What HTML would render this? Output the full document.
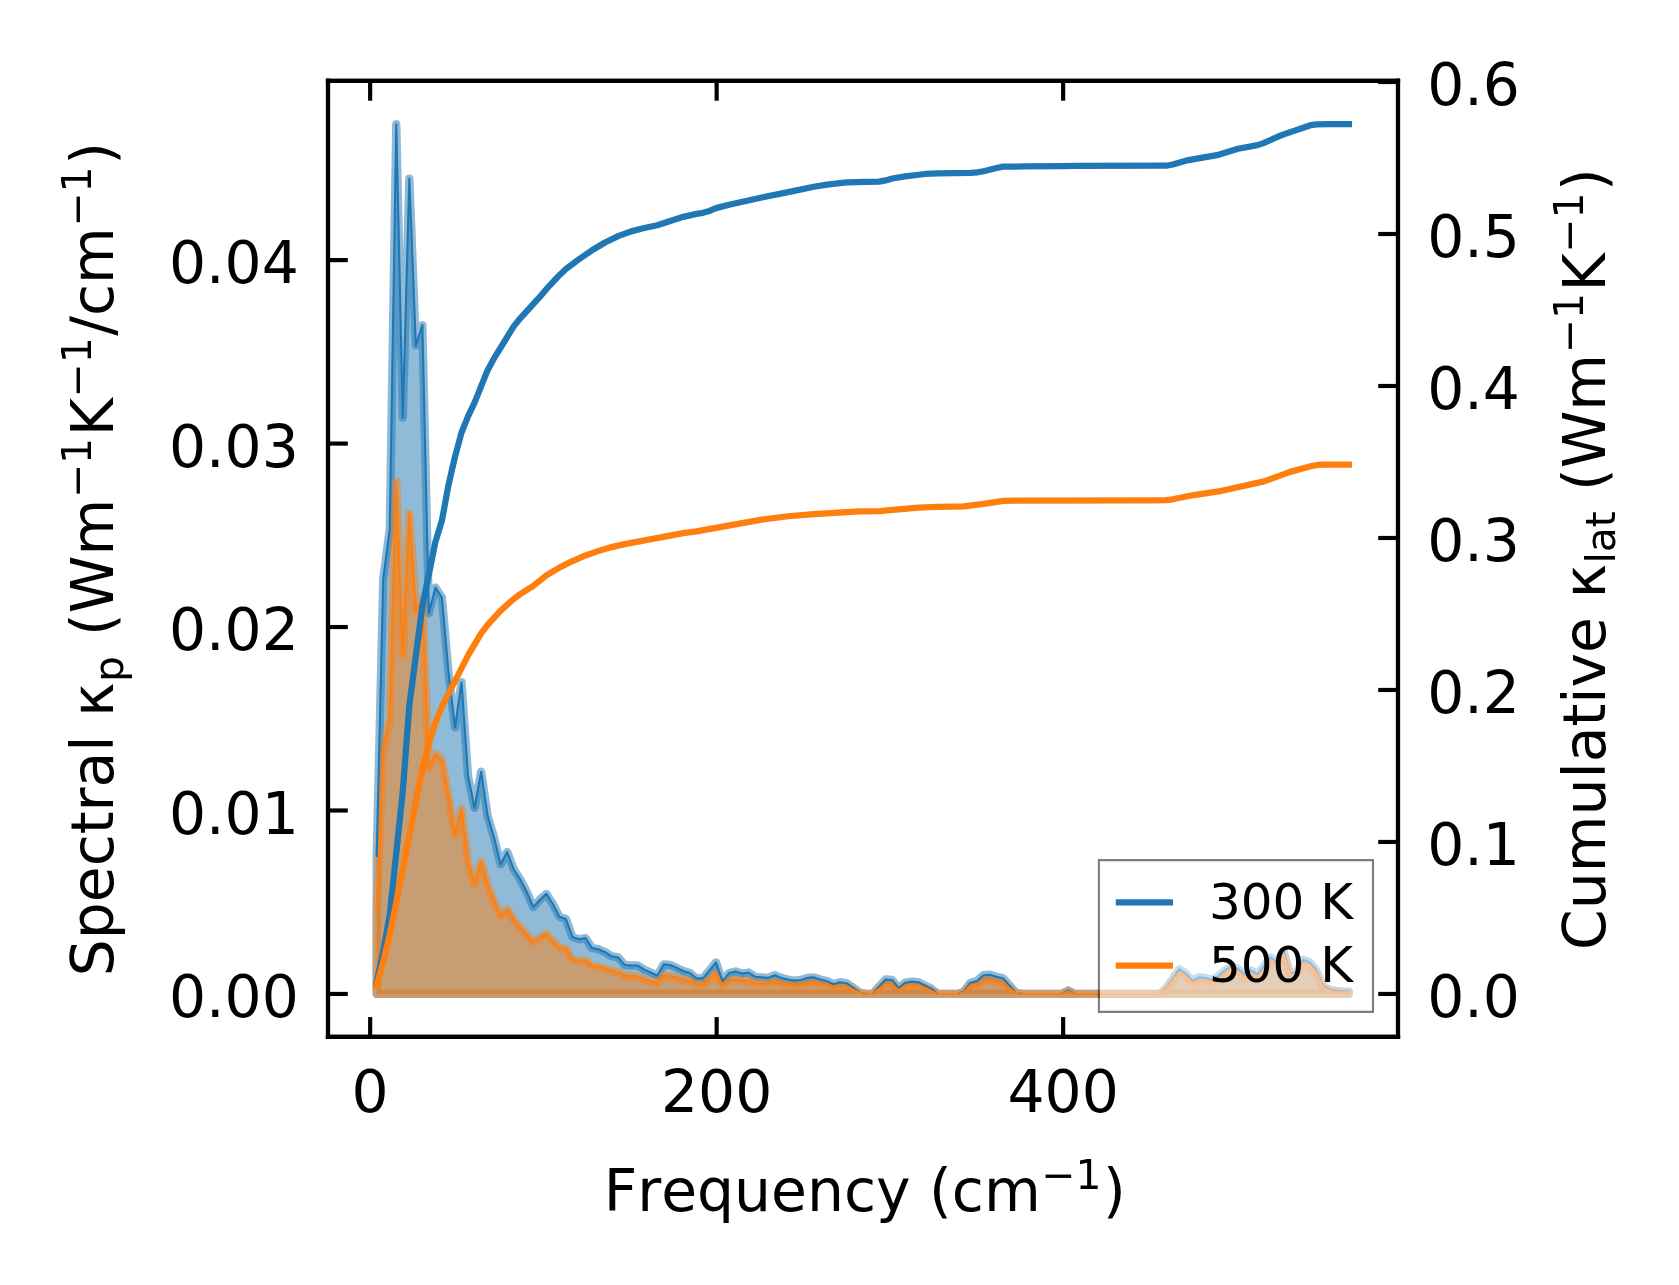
<!DOCTYPE html>
<html lang="en"><head><meta charset="utf-8"><title>Spectral and cumulative lattice thermal conductivity</title>
<style>html,body{margin:0;padding:0;background:#fff;overflow:hidden}svg{display:block;will-change:transform}</style>
</head><body>
<svg width="1679" height="1285" viewBox="0 0 402.96 308.4" version="1.1">
 <defs>
  <style type="text/css">svg *{stroke-linejoin: round; stroke-linecap: butt}</style>
 </defs>
 <g id="figure_1">
  <g id="patch_1">
   <path d="M 0 308.4 
L 402.96 308.4 
L 402.96 0 
L 0 0 
z
" style="fill: #ffffff"/>
  </g>
  <g id="axes_1">
   <g id="patch_2">
    <path d="M 78.72 248.856 
L 335.52 248.856 
L 335.52 19.416 
L 78.72 19.416 
z
" style="fill: #ffffff"/>
   </g>
   <g id="FillBetweenPolyCollection_1">
    <g clip-path="url(#p05aeb54f93)">
     <path d="M 90.408 -69.852 
L 90.408 -102.96 
L 91.974 -169.44 
L 93.54 -181.44 
L 95.106 -278.592 
L 96.672 -208.152 
L 98.238 -265.536 
L 99.804 -225.504 
L 101.37 -230.376 
L 102.936 -161.28 
L 104.502 -167.4 
L 106.068 -165 
L 107.634 -147.12 
L 109.2 -133.848 
L 110.766 -144.672 
L 112.332 -122.16 
L 113.898 -114.48 
L 115.464 -123.192 
L 117.03 -112.656 
L 118.596 -107.28 
L 120.162 -100.992 
L 121.728 -103.92 
L 123.294 -99.768 
L 124.86 -97.32 
L 126.426 -94.32 
L 127.992 -90.72 
L 129.558 -92.472 
L 131.124 -93.864 
L 132.69 -91.44 
L 134.256 -88.392 
L 135.822 -87.84 
L 137.388 -83.544 
L 138.954 -82.968 
L 140.52 -83.256 
L 142.086 -80.88 
L 143.652 -80.592 
L 145.218 -79.896 
L 146.784 -78.912 
L 148.35 -78.624 
L 149.916 -76.8 
L 151.482 -76.68 
L 153.048 -76.68 
L 154.614 -75.696 
L 156.18 -75 
L 157.746 -74.28 
L 159.312 -76.944 
L 160.878 -76.8 
L 162.444 -76.104 
L 164.01 -75.36 
L 165.576 -74.88 
L 167.142 -73.584 
L 168.708 -73.584 
L 170.274 -75.504 
L 171.84 -77.448 
L 173.406 -72.936 
L 174.972 -74.856 
L 176.538 -75.24 
L 178.104 -74.736 
L 179.67 -75 
L 181.236 -73.968 
L 182.802 -73.824 
L 184.368 -73.704 
L 185.934 -74.352 
L 187.5 -73.704 
L 189.066 -73.32 
L 190.632 -73.056 
L 192.198 -73.2 
L 193.764 -73.704 
L 195.33 -73.824 
L 196.896 -73.32 
L 198.462 -72.936 
L 200.028 -72.168 
L 201.594 -72.672 
L 203.16 -72.432 
L 204.726 -71.4 
L 206.292 -70.2 
L 207.858 -69.852 
L 209.424 -69.852 
L 210.99 -71.64 
L 212.556 -73.32 
L 214.122 -73.2 
L 215.688 -71.256 
L 217.254 -72.552 
L 218.82 -72.816 
L 220.386 -72.672 
L 221.952 -71.904 
L 223.518 -71.136 
L 225.084 -69.852 
L 226.65 -69.852 
L 228.216 -69.852 
L 229.782 -69.852 
L 231.348 -70.368 
L 232.914 -72.552 
L 234.48 -72.936 
L 236.046 -74.352 
L 237.612 -74.472 
L 239.178 -73.968 
L 240.744 -73.584 
L 242.31 -71.904 
L 243.876 -70.104 
L 245.442 -69.852 
L 247.008 -69.852 
L 248.574 -69.852 
L 250.14 -69.852 
L 251.706 -69.852 
L 253.272 -69.852 
L 254.838 -69.852 
L 256.404 -70.728 
L 257.97 -69.852 
L 259.536 -69.852 
L 261.102 -69.852 
L 262.668 -69.852 
L 264.234 -69.852 
L 265.8 -69.852 
L 267.366 -69.852 
L 268.932 -69.852 
L 270.498 -69.852 
L 272.064 -69.852 
L 273.63 -69.852 
L 275.196 -69.852 
L 276.762 -69.852 
L 278.328 -69.852 
L 279.894 -71.208 
L 281.46 -73.44 
L 283.026 -75.768 
L 284.592 -74.736 
L 286.158 -72.96 
L 287.724 -73.8 
L 289.29 -73.704 
L 290.856 -73.2 
L 292.422 -74.16 
L 293.988 -75.504 
L 295.554 -76.536 
L 297.12 -75.888 
L 298.686 -74.472 
L 300.252 -75.504 
L 301.818 -74.616 
L 303.384 -76.536 
L 304.95 -78.6 
L 306.516 -77.568 
L 308.082 -80.136 
L 309.648 -74.616 
L 311.214 -75.24 
L 312.78 -78.072 
L 314.346 -77.448 
L 315.912 -75.504 
L 317.478 -71.904 
L 319.044 -70.872 
L 320.61 -70.608 
L 322.176 -70.488 
L 323.742 -70.416 
L 323.742 -69.852 
L 323.742 -69.852 
L 322.176 -69.852 
L 320.61 -69.852 
L 319.044 -69.852 
L 317.478 -69.852 
L 315.912 -69.852 
L 314.346 -69.852 
L 312.78 -69.852 
L 311.214 -69.852 
L 309.648 -69.852 
L 308.082 -69.852 
L 306.516 -69.852 
L 304.95 -69.852 
L 303.384 -69.852 
L 301.818 -69.852 
L 300.252 -69.852 
L 298.686 -69.852 
L 297.12 -69.852 
L 295.554 -69.852 
L 293.988 -69.852 
L 292.422 -69.852 
L 290.856 -69.852 
L 289.29 -69.852 
L 287.724 -69.852 
L 286.158 -69.852 
L 284.592 -69.852 
L 283.026 -69.852 
L 281.46 -69.852 
L 279.894 -69.852 
L 278.328 -69.852 
L 276.762 -69.852 
L 275.196 -69.852 
L 273.63 -69.852 
L 272.064 -69.852 
L 270.498 -69.852 
L 268.932 -69.852 
L 267.366 -69.852 
L 265.8 -69.852 
L 264.234 -69.852 
L 262.668 -69.852 
L 261.102 -69.852 
L 259.536 -69.852 
L 257.97 -69.852 
L 256.404 -69.852 
L 254.838 -69.852 
L 253.272 -69.852 
L 251.706 -69.852 
L 250.14 -69.852 
L 248.574 -69.852 
L 247.008 -69.852 
L 245.442 -69.852 
L 243.876 -69.852 
L 242.31 -69.852 
L 240.744 -69.852 
L 239.178 -69.852 
L 237.612 -69.852 
L 236.046 -69.852 
L 234.48 -69.852 
L 232.914 -69.852 
L 231.348 -69.852 
L 229.782 -69.852 
L 228.216 -69.852 
L 226.65 -69.852 
L 225.084 -69.852 
L 223.518 -69.852 
L 221.952 -69.852 
L 220.386 -69.852 
L 218.82 -69.852 
L 217.254 -69.852 
L 215.688 -69.852 
L 214.122 -69.852 
L 212.556 -69.852 
L 210.99 -69.852 
L 209.424 -69.852 
L 207.858 -69.852 
L 206.292 -69.852 
L 204.726 -69.852 
L 203.16 -69.852 
L 201.594 -69.852 
L 200.028 -69.852 
L 198.462 -69.852 
L 196.896 -69.852 
L 195.33 -69.852 
L 193.764 -69.852 
L 192.198 -69.852 
L 190.632 -69.852 
L 189.066 -69.852 
L 187.5 -69.852 
L 185.934 -69.852 
L 184.368 -69.852 
L 182.802 -69.852 
L 181.236 -69.852 
L 179.67 -69.852 
L 178.104 -69.852 
L 176.538 -69.852 
L 174.972 -69.852 
L 173.406 -69.852 
L 171.84 -69.852 
L 170.274 -69.852 
L 168.708 -69.852 
L 167.142 -69.852 
L 165.576 -69.852 
L 164.01 -69.852 
L 162.444 -69.852 
L 160.878 -69.852 
L 159.312 -69.852 
L 157.746 -69.852 
L 156.18 -69.852 
L 154.614 -69.852 
L 153.048 -69.852 
L 151.482 -69.852 
L 149.916 -69.852 
L 148.35 -69.852 
L 146.784 -69.852 
L 145.218 -69.852 
L 143.652 -69.852 
L 142.086 -69.852 
L 140.52 -69.852 
L 138.954 -69.852 
L 137.388 -69.852 
L 135.822 -69.852 
L 134.256 -69.852 
L 132.69 -69.852 
L 131.124 -69.852 
L 129.558 -69.852 
L 127.992 -69.852 
L 126.426 -69.852 
L 124.86 -69.852 
L 123.294 -69.852 
L 121.728 -69.852 
L 120.162 -69.852 
L 118.596 -69.852 
L 117.03 -69.852 
L 115.464 -69.852 
L 113.898 -69.852 
L 112.332 -69.852 
L 110.766 -69.852 
L 109.2 -69.852 
L 107.634 -69.852 
L 106.068 -69.852 
L 104.502 -69.852 
L 102.936 -69.852 
L 101.37 -69.852 
L 99.804 -69.852 
L 98.238 -69.852 
L 96.672 -69.852 
L 95.106 -69.852 
L 93.54 -69.852 
L 91.974 -69.852 
L 90.408 -69.852 
z
" transform="translate(0 308.4)" style="fill: #1f77b4; fill-opacity: 0.5; stroke: #1f77b4; stroke-opacity: 0.5; stroke-width: 2; stroke: #1f77b4; stroke-opacity: 0.5; stroke-width: 2"/>
    </g>
   </g>
   <g id="FillBetweenPolyCollection_2">
    <g clip-path="url(#p05aeb54f93)">
     <path d="M 90.408 -69.852 
L 90.408 -89.28 
L 91.974 -128.4 
L 93.54 -135.84 
L 95.106 -192.792 
L 96.672 -151.2 
L 98.238 -185.136 
L 99.804 -161.88 
L 101.37 -164.64 
L 102.936 -124.08 
L 104.502 -127.44 
L 106.068 -125.952 
L 107.634 -117.36 
L 109.2 -108 
L 110.766 -114.168 
L 112.332 -101.52 
L 113.898 -96.336 
L 115.464 -101.568 
L 117.03 -96.072 
L 118.596 -92.04 
L 120.162 -88.488 
L 121.728 -90.12 
L 123.294 -87.6 
L 124.86 -85.8 
L 126.426 -84 
L 127.992 -82.272 
L 129.558 -83.4 
L 131.124 -84.264 
L 132.69 -82.44 
L 134.256 -80.976 
L 135.822 -80.736 
L 137.388 -78.072 
L 138.954 -77.784 
L 140.52 -77.928 
L 142.086 -76.536 
L 143.652 -76.392 
L 145.218 -75.984 
L 146.784 -75.408 
L 148.35 -75.12 
L 149.916 -74.16 
L 151.482 -74.16 
L 153.048 -74.016 
L 154.614 -73.32 
L 156.18 -72.888 
L 157.746 -72.48 
L 159.312 -74.28 
L 160.878 -74.16 
L 162.444 -73.728 
L 164.01 -73.32 
L 165.576 -72.912 
L 167.142 -72.192 
L 168.708 -72.216 
L 170.274 -73.44 
L 171.84 -74.736 
L 173.406 -72.024 
L 174.972 -73.056 
L 176.538 -73.32 
L 178.104 -72.936 
L 179.67 -73.056 
L 181.236 -72.432 
L 182.802 -72.432 
L 184.368 -72.288 
L 185.934 -72.816 
L 187.5 -72.288 
L 189.066 -72.024 
L 190.632 -71.904 
L 192.198 -72.024 
L 193.764 -72.432 
L 195.33 -72.432 
L 196.896 -72.168 
L 198.462 -72.024 
L 200.028 -71.448 
L 201.594 -71.784 
L 203.16 -71.64 
L 204.726 -70.872 
L 206.292 -70.104 
L 207.858 -69.852 
L 209.424 -69.852 
L 210.99 -71.136 
L 212.556 -72.288 
L 214.122 -72.168 
L 215.688 -70.752 
L 217.254 -71.784 
L 218.82 -72.024 
L 220.386 -71.904 
L 221.952 -71.256 
L 223.518 -70.608 
L 225.084 -69.852 
L 226.65 -69.852 
L 228.216 -69.852 
L 229.782 -69.852 
L 231.348 -70.224 
L 232.914 -71.904 
L 234.48 -72.024 
L 236.046 -73.056 
L 237.612 -73.2 
L 239.178 -72.816 
L 240.744 -72.552 
L 242.31 -71.136 
L 243.876 -70.104 
L 245.442 -69.852 
L 247.008 -69.852 
L 248.574 -69.852 
L 250.14 -69.852 
L 251.706 -69.852 
L 253.272 -69.852 
L 254.838 -69.852 
L 256.404 -70.44 
L 257.97 -69.852 
L 259.536 -69.852 
L 261.102 -69.852 
L 262.668 -69.852 
L 264.234 -69.852 
L 265.8 -69.852 
L 267.366 -69.852 
L 268.932 -69.852 
L 270.498 -69.852 
L 272.064 -69.852 
L 273.63 -69.852 
L 275.196 -69.852 
L 276.762 -69.852 
L 278.328 -69.852 
L 279.894 -70.92 
L 281.46 -72.96 
L 283.026 -74.88 
L 284.592 -73.968 
L 286.158 -72.288 
L 287.724 -72.816 
L 289.29 -72.936 
L 290.856 -72.432 
L 292.422 -73.2 
L 293.988 -74.736 
L 295.554 -75.768 
L 297.12 -75 
L 298.686 -73.584 
L 300.252 -74.616 
L 301.818 -73.44 
L 303.384 -75.504 
L 304.95 -77.568 
L 306.516 -76.8 
L 308.082 -79.368 
L 309.648 -74.232 
L 311.214 -74.736 
L 312.78 -77.04 
L 314.346 -76.656 
L 315.912 -74.856 
L 317.478 -71.4 
L 319.044 -70.608 
L 320.61 -70.224 
L 322.176 -70.224 
L 323.742 -70.224 
L 323.742 -69.852 
L 323.742 -69.852 
L 322.176 -69.852 
L 320.61 -69.852 
L 319.044 -69.852 
L 317.478 -69.852 
L 315.912 -69.852 
L 314.346 -69.852 
L 312.78 -69.852 
L 311.214 -69.852 
L 309.648 -69.852 
L 308.082 -69.852 
L 306.516 -69.852 
L 304.95 -69.852 
L 303.384 -69.852 
L 301.818 -69.852 
L 300.252 -69.852 
L 298.686 -69.852 
L 297.12 -69.852 
L 295.554 -69.852 
L 293.988 -69.852 
L 292.422 -69.852 
L 290.856 -69.852 
L 289.29 -69.852 
L 287.724 -69.852 
L 286.158 -69.852 
L 284.592 -69.852 
L 283.026 -69.852 
L 281.46 -69.852 
L 279.894 -69.852 
L 278.328 -69.852 
L 276.762 -69.852 
L 275.196 -69.852 
L 273.63 -69.852 
L 272.064 -69.852 
L 270.498 -69.852 
L 268.932 -69.852 
L 267.366 -69.852 
L 265.8 -69.852 
L 264.234 -69.852 
L 262.668 -69.852 
L 261.102 -69.852 
L 259.536 -69.852 
L 257.97 -69.852 
L 256.404 -69.852 
L 254.838 -69.852 
L 253.272 -69.852 
L 251.706 -69.852 
L 250.14 -69.852 
L 248.574 -69.852 
L 247.008 -69.852 
L 245.442 -69.852 
L 243.876 -69.852 
L 242.31 -69.852 
L 240.744 -69.852 
L 239.178 -69.852 
L 237.612 -69.852 
L 236.046 -69.852 
L 234.48 -69.852 
L 232.914 -69.852 
L 231.348 -69.852 
L 229.782 -69.852 
L 228.216 -69.852 
L 226.65 -69.852 
L 225.084 -69.852 
L 223.518 -69.852 
L 221.952 -69.852 
L 220.386 -69.852 
L 218.82 -69.852 
L 217.254 -69.852 
L 215.688 -69.852 
L 214.122 -69.852 
L 212.556 -69.852 
L 210.99 -69.852 
L 209.424 -69.852 
L 207.858 -69.852 
L 206.292 -69.852 
L 204.726 -69.852 
L 203.16 -69.852 
L 201.594 -69.852 
L 200.028 -69.852 
L 198.462 -69.852 
L 196.896 -69.852 
L 195.33 -69.852 
L 193.764 -69.852 
L 192.198 -69.852 
L 190.632 -69.852 
L 189.066 -69.852 
L 187.5 -69.852 
L 185.934 -69.852 
L 184.368 -69.852 
L 182.802 -69.852 
L 181.236 -69.852 
L 179.67 -69.852 
L 178.104 -69.852 
L 176.538 -69.852 
L 174.972 -69.852 
L 173.406 -69.852 
L 171.84 -69.852 
L 170.274 -69.852 
L 168.708 -69.852 
L 167.142 -69.852 
L 165.576 -69.852 
L 164.01 -69.852 
L 162.444 -69.852 
L 160.878 -69.852 
L 159.312 -69.852 
L 157.746 -69.852 
L 156.18 -69.852 
L 154.614 -69.852 
L 153.048 -69.852 
L 151.482 -69.852 
L 149.916 -69.852 
L 148.35 -69.852 
L 146.784 -69.852 
L 145.218 -69.852 
L 143.652 -69.852 
L 142.086 -69.852 
L 140.52 -69.852 
L 138.954 -69.852 
L 137.388 -69.852 
L 135.822 -69.852 
L 134.256 -69.852 
L 132.69 -69.852 
L 131.124 -69.852 
L 129.558 -69.852 
L 127.992 -69.852 
L 126.426 -69.852 
L 124.86 -69.852 
L 123.294 -69.852 
L 121.728 -69.852 
L 120.162 -69.852 
L 118.596 -69.852 
L 117.03 -69.852 
L 115.464 -69.852 
L 113.898 -69.852 
L 112.332 -69.852 
L 110.766 -69.852 
L 109.2 -69.852 
L 107.634 -69.852 
L 106.068 -69.852 
L 104.502 -69.852 
L 102.936 -69.852 
L 101.37 -69.852 
L 99.804 -69.852 
L 98.238 -69.852 
L 96.672 -69.852 
L 95.106 -69.852 
L 93.54 -69.852 
L 91.974 -69.852 
L 90.408 -69.852 
z
" transform="translate(0 308.4)" style="fill: #ff7f0e; fill-opacity: 0.5; stroke: #ff7f0e; stroke-opacity: 0.5; stroke-width: 2; stroke: #ff7f0e; stroke-opacity: 0.5; stroke-width: 2"/>
    </g>
   </g>
   <g id="matplotlib.axis_1">
    <g id="xtick_1">
     <g id="line2d_1">
      <g>
       <path d="M 0 0 
L 0 -4.75 
" transform="translate(88.836 248.856)" style="stroke: #000000; stroke: #000000"/>
      </g>
     </g>
     <g id="line2d_2">
      <g>
       <path d="M 0 0 
L 0 4.75 
" transform="translate(88.836 19.416)" style="stroke: #000000; stroke: #000000"/>
      </g>
     </g>
     <g id="text_1">
      <text style="font-size: 14px; font-family: 'DejaVu Sans', 'Liberation Sans', sans-serif; text-anchor: middle" x="88.836" y="266.993812" transform="rotate(-0 88.836 266.993812)">0</text>
     </g>
    </g>
    <g id="xtick_2">
     <g id="line2d_3">
      <g>
       <path d="M 0 0 
L 0 -4.75 
" transform="translate(171.996 248.856)" style="stroke: #000000; stroke: #000000"/>
      </g>
     </g>
     <g id="line2d_4">
      <g>
       <path d="M 0 0 
L 0 4.75 
" transform="translate(171.996 19.416)" style="stroke: #000000; stroke: #000000"/>
      </g>
     </g>
     <g id="text_2">
      <text style="font-size: 14px; font-family: 'DejaVu Sans', 'Liberation Sans', sans-serif; text-anchor: middle" x="171.996" y="266.993812" transform="rotate(-0 171.996 266.993812)">200</text>
     </g>
    </g>
    <g id="xtick_3">
     <g id="line2d_5">
      <g>
       <path d="M 0 0 
L 0 -4.75 
" transform="translate(255.156 248.856)" style="stroke: #000000; stroke: #000000"/>
      </g>
     </g>
     <g id="line2d_6">
      <g>
       <path d="M 0 0 
L 0 4.75 
" transform="translate(255.156 19.416)" style="stroke: #000000; stroke: #000000"/>
      </g>
     </g>
     <g id="text_3">
      <text style="font-size: 14px; font-family: 'DejaVu Sans', 'Liberation Sans', sans-serif; text-anchor: middle" x="255.156" y="266.993812" transform="rotate(-0 255.156 266.993812)">400</text>
     </g>
    </g>
    <g id="text_4" transform="translate(0.480 0.240)">
     <!-- Frequency (cm$^{-1}$) -->
     <g transform="translate(144.4 291.005375)">
      <text>
       <tspan x="0" y="-0.498438" style="font-size: 14px; font-family: 'DejaVu Sans', 'Liberation Sans', sans-serif">F</tspan>
       <tspan x="8.052734" y="-0.498438" style="font-size: 14px; font-family: 'DejaVu Sans', 'Liberation Sans', sans-serif">r</tspan>
       <tspan x="13.808594" y="-0.498438" style="font-size: 14px; font-family: 'DejaVu Sans', 'Liberation Sans', sans-serif">e</tspan>
       <tspan x="22.421875" y="-0.498438" style="font-size: 14px; font-family: 'DejaVu Sans', 'Liberation Sans', sans-serif">q</tspan>
       <tspan x="31.308594" y="-0.498438" style="font-size: 14px; font-family: 'DejaVu Sans', 'Liberation Sans', sans-serif">u</tspan>
       <tspan x="40.181641" y="-0.498438" style="font-size: 14px; font-family: 'DejaVu Sans', 'Liberation Sans', sans-serif">e</tspan>
       <tspan x="48.794922" y="-0.498438" style="font-size: 14px; font-family: 'DejaVu Sans', 'Liberation Sans', sans-serif">n</tspan>
       <tspan x="57.667969" y="-0.498438" style="font-size: 14px; font-family: 'DejaVu Sans', 'Liberation Sans', sans-serif">c</tspan>
       <tspan x="65.365234" y="-0.498438" style="font-size: 14px; font-family: 'DejaVu Sans', 'Liberation Sans', sans-serif">y</tspan>
       <tspan x="73.650391" y="-0.498438" style="font-size: 14px; font-family: 'DejaVu Sans', 'Liberation Sans', sans-serif"> </tspan>
       <tspan x="78.100586" y="-0.498438" style="font-size: 14px; font-family: 'DejaVu Sans', 'Liberation Sans', sans-serif">(</tspan>
       <tspan x="83.5625" y="-0.498438" style="font-size: 14px; font-family: 'DejaVu Sans', 'Liberation Sans', sans-serif">c</tspan>
       <tspan x="91.259766" y="-0.498438" style="font-size: 14px; font-family: 'DejaVu Sans', 'Liberation Sans', sans-serif">m</tspan>
       <tspan x="119.860645" y="-0.498438" style="font-size: 14px; font-family: 'DejaVu Sans', 'Liberation Sans', sans-serif">)</tspan>
       <tspan x="105.031445" y="-5.857813" style="font-size: 9.8px; font-family: 'DejaVu Sans', 'Liberation Sans', sans-serif">−</tspan>
       <tspan x="113.242773" y="-5.857813" style="font-size: 9.8px; font-family: 'DejaVu Sans', 'Liberation Sans', sans-serif">1</tspan>
      </text>
     </g>
    </g>
   </g>
   <g id="matplotlib.axis_2">
    <g id="ytick_1">
     <g id="line2d_7">
      <g>
       <path d="M 0 0 
L 4.75 0 
" transform="translate(78.72 238.548)" style="stroke: #000000; stroke: #000000"/>
      </g>
     </g>
     <g id="text_5" transform="translate(0.000 0.264)">
      <text style="font-size: 14px; font-family: 'DejaVu Sans', 'Liberation Sans', sans-serif; text-anchor: end" x="71.72" y="243.866906" transform="rotate(-0 71.72 243.866906)">0.00</text>
     </g>
    </g>
    <g id="ytick_2">
     <g id="line2d_8">
      <g>
       <path d="M 0 0 
L 4.75 0 
" transform="translate(78.72 194.5176)" style="stroke: #000000; stroke: #000000"/>
      </g>
     </g>
     <g id="text_6" transform="translate(0.000 0.264)">
      <text style="font-size: 14px; font-family: 'DejaVu Sans', 'Liberation Sans', sans-serif; text-anchor: end" x="71.72" y="199.836506" transform="rotate(-0 71.72 199.836506)">0.01</text>
     </g>
    </g>
    <g id="ytick_3">
     <g id="line2d_9">
      <g>
       <path d="M 0 0 
L 4.75 0 
" transform="translate(78.72 150.4872)" style="stroke: #000000; stroke: #000000"/>
      </g>
     </g>
     <g id="text_7" transform="translate(0.000 0.264)">
      <text style="font-size: 14px; font-family: 'DejaVu Sans', 'Liberation Sans', sans-serif; text-anchor: end" x="71.72" y="155.806106" transform="rotate(-0 71.72 155.806106)">0.02</text>
     </g>
    </g>
    <g id="ytick_4">
     <g id="line2d_10">
      <g>
       <path d="M 0 0 
L 4.75 0 
" transform="translate(78.72 106.4568)" style="stroke: #000000; stroke: #000000"/>
      </g>
     </g>
     <g id="text_8" transform="translate(0.000 0.264)">
      <text style="font-size: 14px; font-family: 'DejaVu Sans', 'Liberation Sans', sans-serif; text-anchor: end" x="71.72" y="111.775706" transform="rotate(-0 71.72 111.775706)">0.03</text>
     </g>
    </g>
    <g id="ytick_5">
     <g id="line2d_11">
      <g>
       <path d="M 0 0 
L 4.75 0 
" transform="translate(78.72 62.4264)" style="stroke: #000000; stroke: #000000"/>
      </g>
     </g>
     <g id="text_9" transform="translate(0.000 0.264)">
      <text style="font-size: 14px; font-family: 'DejaVu Sans', 'Liberation Sans', sans-serif; text-anchor: end" x="71.72" y="67.745306" transform="rotate(-0 71.72 67.745306)">0.04</text>
     </g>
    </g>
    <g id="text_10">
     <!-- Spectral $\mathrm{\kappa_p}$ (Wm$^{-1}$K$^{-1}$/cm$^{-1}$) -->
     <g transform="translate(27.708125 234.306) rotate(-90)">
      <text>
       <tspan x="0" y="-0.498438" style="font-size: 14px; font-family: 'DejaVu Sans', 'Liberation Sans', sans-serif">S</tspan>
       <tspan x="8.886719" y="-0.498438" style="font-size: 14px; font-family: 'DejaVu Sans', 'Liberation Sans', sans-serif">p</tspan>
       <tspan x="17.773438" y="-0.498438" style="font-size: 14px; font-family: 'DejaVu Sans', 'Liberation Sans', sans-serif">e</tspan>
       <tspan x="26.386719" y="-0.498438" style="font-size: 14px; font-family: 'DejaVu Sans', 'Liberation Sans', sans-serif">c</tspan>
       <tspan x="34.083984" y="-0.498438" style="font-size: 14px; font-family: 'DejaVu Sans', 'Liberation Sans', sans-serif">t</tspan>
       <tspan x="39.573242" y="-0.498438" style="font-size: 14px; font-family: 'DejaVu Sans', 'Liberation Sans', sans-serif">r</tspan>
       <tspan x="45.329102" y="-0.498438" style="font-size: 14px; font-family: 'DejaVu Sans', 'Liberation Sans', sans-serif">a</tspan>
       <tspan x="53.908203" y="-0.498438" style="font-size: 14px; font-family: 'DejaVu Sans', 'Liberation Sans', sans-serif">l</tspan>
       <tspan x="57.797852" y="-0.498438" style="font-size: 14px; font-family: 'DejaVu Sans', 'Liberation Sans', sans-serif"> </tspan>
       <tspan x="62.248047" y="-0.498438" style="font-size: 14px; font-family: 'DejaVu Sans', 'Liberation Sans', sans-serif">κ</tspan>
       <tspan x="77.236523" y="-0.498438" style="font-size: 14px; font-family: 'DejaVu Sans', 'Liberation Sans', sans-serif"> </tspan>
       <tspan x="81.686719" y="-0.498438" style="font-size: 14px; font-family: 'DejaVu Sans', 'Liberation Sans', sans-serif">(</tspan>
       <tspan x="87.148633" y="-0.498438" style="font-size: 14px; font-family: 'DejaVu Sans', 'Liberation Sans', sans-serif">W</tspan>
       <tspan x="100.991406" y="-0.498438" style="font-size: 14px; font-family: 'DejaVu Sans', 'Liberation Sans', sans-serif">m</tspan>
       <tspan x="129.592285" y="-0.498438" style="font-size: 14px; font-family: 'DejaVu Sans', 'Liberation Sans', sans-serif">K</tspan>
       <tspan x="153.736133" y="-0.498438" style="font-size: 14px; font-family: 'DejaVu Sans', 'Liberation Sans', sans-serif">/</tspan>
       <tspan x="158.45293" y="-0.498438" style="font-size: 14px; font-family: 'DejaVu Sans', 'Liberation Sans', sans-serif">c</tspan>
       <tspan x="166.150195" y="-0.498438" style="font-size: 14px; font-family: 'DejaVu Sans', 'Liberation Sans', sans-serif">m</tspan>
       <tspan x="194.751074" y="-0.498438" style="font-size: 14px; font-family: 'DejaVu Sans', 'Liberation Sans', sans-serif">)</tspan>
       <tspan x="70.633008" y="1.798437" style="font-size: 9.8px; font-family: 'DejaVu Sans', 'Liberation Sans', sans-serif">p</tspan>
       <tspan x="114.763086" y="-5.857813" style="font-size: 9.8px; font-family: 'DejaVu Sans', 'Liberation Sans', sans-serif">−</tspan>
       <tspan x="122.974414" y="-5.857813" style="font-size: 9.8px; font-family: 'DejaVu Sans', 'Liberation Sans', sans-serif">1</tspan>
       <tspan x="138.906934" y="-5.857813" style="font-size: 9.8px; font-family: 'DejaVu Sans', 'Liberation Sans', sans-serif">−</tspan>
       <tspan x="147.118262" y="-5.857813" style="font-size: 9.8px; font-family: 'DejaVu Sans', 'Liberation Sans', sans-serif">1</tspan>
       <tspan x="179.921875" y="-5.857813" style="font-size: 9.8px; font-family: 'DejaVu Sans', 'Liberation Sans', sans-serif">−</tspan>
       <tspan x="188.133203" y="-5.857813" style="font-size: 9.8px; font-family: 'DejaVu Sans', 'Liberation Sans', sans-serif">1</tspan>
      </text>
     </g>
    </g>
   </g>
   <g id="line2d_12">
    <path d="M 90.408 205.44 
L 91.974 138.96 
L 93.54 126.96 
L 95.106 29.808 
L 96.672 100.248 
L 98.238 42.864 
L 99.804 82.896 
L 101.37 78.024 
L 102.936 147.12 
L 104.502 141 
L 106.068 143.4 
L 107.634 161.28 
L 109.2 174.552 
L 110.766 163.728 
L 112.332 186.24 
L 113.898 193.92 
L 115.464 185.208 
L 117.03 195.744 
L 118.596 201.12 
L 120.162 207.408 
L 121.728 204.48 
L 123.294 208.632 
L 124.86 211.08 
L 126.426 214.08 
L 127.992 217.68 
L 129.558 215.928 
L 131.124 214.536 
L 132.69 216.96 
L 134.256 220.008 
L 135.822 220.56 
L 137.388 224.856 
L 138.954 225.432 
L 140.52 225.144 
L 142.086 227.52 
L 143.652 227.808 
L 145.218 228.504 
L 146.784 229.488 
L 148.35 229.776 
L 149.916 231.6 
L 151.482 231.72 
L 153.048 231.72 
L 154.614 232.704 
L 157.746 234.12 
L 159.312 231.456 
L 160.878 231.6 
L 164.01 233.04 
L 165.576 233.52 
L 167.142 234.816 
L 168.708 234.816 
L 171.84 230.952 
L 173.406 235.464 
L 174.972 233.544 
L 176.538 233.16 
L 178.104 233.664 
L 179.67 233.4 
L 181.236 234.432 
L 184.368 234.696 
L 185.934 234.048 
L 187.5 234.696 
L 189.066 235.08 
L 190.632 235.344 
L 192.198 235.2 
L 193.764 234.696 
L 195.33 234.576 
L 196.896 235.08 
L 198.462 235.464 
L 200.028 236.232 
L 201.594 235.728 
L 203.16 235.968 
L 204.726 237 
L 206.292 238.2 
L 207.858 238.548 
L 209.424 238.548 
L 212.556 235.08 
L 214.122 235.2 
L 215.688 237.144 
L 217.254 235.848 
L 218.82 235.584 
L 220.386 235.728 
L 223.518 237.264 
L 225.084 238.548 
L 229.782 238.548 
L 231.348 238.032 
L 232.914 235.848 
L 234.48 235.464 
L 236.046 234.048 
L 237.612 233.928 
L 239.178 234.432 
L 240.744 234.816 
L 243.876 238.296 
L 245.442 238.548 
L 254.838 238.548 
L 256.404 237.672 
L 257.97 238.548 
L 278.328 238.548 
L 279.894 237.192 
L 283.026 232.632 
L 284.592 233.664 
L 286.158 235.44 
L 287.724 234.6 
L 289.29 234.696 
L 290.856 235.2 
L 292.422 234.24 
L 293.988 232.896 
L 295.554 231.864 
L 297.12 232.512 
L 298.686 233.928 
L 300.252 232.896 
L 301.818 233.784 
L 304.95 229.8 
L 306.516 230.832 
L 308.082 228.264 
L 309.648 233.784 
L 311.214 233.16 
L 312.78 230.328 
L 314.346 230.952 
L 315.912 232.896 
L 317.478 236.496 
L 319.044 237.528 
L 320.61 237.792 
L 323.742 237.984 
L 323.742 237.984 
" clip-path="url(#p05aeb54f93)" style="fill: none; stroke: #1f77b4; stroke-width: 0.5; stroke-linecap: square"/>
   </g>
   <g id="line2d_13">
    <path d="M 90.408 219.12 
L 91.974 180 
L 93.54 172.56 
L 95.106 115.608 
L 96.672 157.2 
L 98.238 123.264 
L 99.804 146.52 
L 101.37 143.76 
L 102.936 184.32 
L 104.502 180.96 
L 106.068 182.448 
L 107.634 191.04 
L 109.2 200.4 
L 110.766 194.232 
L 112.332 206.88 
L 113.898 212.064 
L 115.464 206.832 
L 117.03 212.328 
L 118.596 216.36 
L 120.162 219.912 
L 121.728 218.28 
L 123.294 220.8 
L 127.992 226.128 
L 129.558 225 
L 131.124 224.136 
L 132.69 225.96 
L 134.256 227.424 
L 135.822 227.664 
L 137.388 230.328 
L 138.954 230.616 
L 140.52 230.472 
L 142.086 231.864 
L 143.652 232.008 
L 145.218 232.416 
L 146.784 232.992 
L 148.35 233.28 
L 149.916 234.24 
L 151.482 234.24 
L 153.048 234.384 
L 154.614 235.08 
L 157.746 235.92 
L 159.312 234.12 
L 160.878 234.24 
L 165.576 235.488 
L 167.142 236.208 
L 168.708 236.184 
L 171.84 233.664 
L 173.406 236.376 
L 174.972 235.344 
L 176.538 235.08 
L 178.104 235.464 
L 179.67 235.344 
L 181.236 235.968 
L 182.802 235.968 
L 184.368 236.112 
L 185.934 235.584 
L 187.5 236.112 
L 189.066 236.376 
L 190.632 236.496 
L 192.198 236.376 
L 193.764 235.968 
L 195.33 235.968 
L 196.896 236.232 
L 198.462 236.376 
L 200.028 236.952 
L 201.594 236.616 
L 203.16 236.76 
L 206.292 238.296 
L 207.858 238.548 
L 209.424 238.548 
L 212.556 236.112 
L 214.122 236.232 
L 215.688 237.648 
L 217.254 236.616 
L 218.82 236.376 
L 220.386 236.496 
L 225.084 238.548 
L 229.782 238.548 
L 231.348 238.176 
L 232.914 236.496 
L 234.48 236.376 
L 236.046 235.344 
L 237.612 235.2 
L 239.178 235.584 
L 240.744 235.848 
L 242.31 237.264 
L 243.876 238.296 
L 245.442 238.548 
L 254.838 238.548 
L 256.404 237.96 
L 257.97 238.548 
L 278.328 238.548 
L 279.894 237.48 
L 283.026 233.52 
L 284.592 234.432 
L 286.158 236.112 
L 287.724 235.584 
L 289.29 235.464 
L 290.856 235.968 
L 292.422 235.2 
L 293.988 233.664 
L 295.554 232.632 
L 297.12 233.4 
L 298.686 234.816 
L 300.252 233.784 
L 301.818 234.96 
L 304.95 230.832 
L 306.516 231.6 
L 308.082 229.032 
L 309.648 234.168 
L 311.214 233.664 
L 312.78 231.36 
L 314.346 231.744 
L 315.912 233.544 
L 317.478 237 
L 319.044 237.792 
L 320.61 238.176 
L 323.742 238.176 
L 323.742 238.176 
" clip-path="url(#p05aeb54f93)" style="fill: none; stroke: #ff7f0e; stroke-width: 0.5; stroke-linecap: square"/>
   </g>
   <g id="patch_3">
    <path d="M 78.72 248.856 
L 78.72 19.416 
" style="fill: none; stroke: #000000; stroke-linejoin: miter; stroke-linecap: square"/>
   </g>
   <g id="patch_4">
    <path d="M 335.52 248.856 
L 335.52 19.416 
" style="fill: none; stroke: #000000; stroke-linejoin: miter; stroke-linecap: square"/>
   </g>
   <g id="patch_5">
    <path d="M 78.72 248.856 
L 335.52 248.856 
" style="fill: none; stroke: #000000; stroke-linejoin: miter; stroke-linecap: square"/>
   </g>
   <g id="patch_6">
    <path d="M 78.72 19.416 
L 335.52 19.416 
" style="fill: none; stroke: #000000; stroke-linejoin: miter; stroke-linecap: square"/>
   </g>
  </g>
  <g id="axes_2">
   <g id="matplotlib.axis_3">
    <g id="ytick_6">
     <g id="line2d_14">
      <g>
       <path d="M 0 0 
L -4.75 0 
" transform="translate(335.52 238.548)" style="stroke: #000000; stroke: #000000"/>
      </g>
     </g>
     <g id="text_11" transform="translate(0.000 0.264)">
      <text style="font-size: 14px; font-family: 'DejaVu Sans', 'Liberation Sans', sans-serif; text-anchor: start" x="342.52" y="243.866906" transform="rotate(-0 342.52 243.866906)">0.0</text>
     </g>
    </g>
    <g id="ytick_7">
     <g id="line2d_15">
      <g>
       <path d="M 0 0 
L -4.75 0 
" transform="translate(335.52 202.0704)" style="stroke: #000000; stroke: #000000"/>
      </g>
     </g>
     <g id="text_12" transform="translate(0.000 0.264)">
      <text style="font-size: 14px; font-family: 'DejaVu Sans', 'Liberation Sans', sans-serif; text-anchor: start" x="342.52" y="207.389306" transform="rotate(-0 342.52 207.389306)">0.1</text>
     </g>
    </g>
    <g id="ytick_8">
     <g id="line2d_16">
      <g>
       <path d="M 0 0 
L -4.75 0 
" transform="translate(335.52 165.5928)" style="stroke: #000000; stroke: #000000"/>
      </g>
     </g>
     <g id="text_13" transform="translate(0.000 0.264)">
      <text style="font-size: 14px; font-family: 'DejaVu Sans', 'Liberation Sans', sans-serif; text-anchor: start" x="342.52" y="170.911706" transform="rotate(-0 342.52 170.911706)">0.2</text>
     </g>
    </g>
    <g id="ytick_9">
     <g id="line2d_17">
      <g>
       <path d="M 0 0 
L -4.75 0 
" transform="translate(335.52 129.1152)" style="stroke: #000000; stroke: #000000"/>
      </g>
     </g>
     <g id="text_14" transform="translate(0.000 0.264)">
      <text style="font-size: 14px; font-family: 'DejaVu Sans', 'Liberation Sans', sans-serif; text-anchor: start" x="342.52" y="134.434106" transform="rotate(-0 342.52 134.434106)">0.3</text>
     </g>
    </g>
    <g id="ytick_10">
     <g id="line2d_18">
      <g>
       <path d="M 0 0 
L -4.75 0 
" transform="translate(335.52 92.6376)" style="stroke: #000000; stroke: #000000"/>
      </g>
     </g>
     <g id="text_15" transform="translate(0.000 0.264)">
      <text style="font-size: 14px; font-family: 'DejaVu Sans', 'Liberation Sans', sans-serif; text-anchor: start" x="342.52" y="97.956506" transform="rotate(-0 342.52 97.956506)">0.4</text>
     </g>
    </g>
    <g id="ytick_11">
     <g id="line2d_19">
      <g>
       <path d="M 0 0 
L -4.75 0 
" transform="translate(335.52 56.16)" style="stroke: #000000; stroke: #000000"/>
      </g>
     </g>
     <g id="text_16" transform="translate(0.000 0.264)">
      <text style="font-size: 14px; font-family: 'DejaVu Sans', 'Liberation Sans', sans-serif; text-anchor: start" x="342.52" y="61.478906" transform="rotate(-0 342.52 61.478906)">0.5</text>
     </g>
    </g>
    <g id="ytick_12">
     <g id="line2d_20">
      <g>
       <path d="M 0 0 
L -4.75 0 
" transform="translate(335.52 19.6824)" style="stroke: #000000; stroke: #000000"/>
      </g>
     </g>
     <g id="text_17" transform="translate(0.000 0.264)">
      <text style="font-size: 14px; font-family: 'DejaVu Sans', 'Liberation Sans', sans-serif; text-anchor: start" x="342.52" y="25.001306" transform="rotate(-0 342.52 25.001306)">0.6</text>
     </g>
    </g>
    <g id="text_18">
     <!-- Cumulative $\mathrm{\kappa_{lat}}$ (Wm$^{-1}$K$^{-1}$) -->
     <g transform="translate(385.692813 228.006) rotate(-90)">
      <text>
       <tspan x="0" y="-0.498438" style="font-size: 14px; font-family: 'DejaVu Sans', 'Liberation Sans', sans-serif">C</tspan>
       <tspan x="9.775391" y="-0.498438" style="font-size: 14px; font-family: 'DejaVu Sans', 'Liberation Sans', sans-serif">u</tspan>
       <tspan x="18.648438" y="-0.498438" style="font-size: 14px; font-family: 'DejaVu Sans', 'Liberation Sans', sans-serif">m</tspan>
       <tspan x="32.286133" y="-0.498438" style="font-size: 14px; font-family: 'DejaVu Sans', 'Liberation Sans', sans-serif">u</tspan>
       <tspan x="41.15918" y="-0.498438" style="font-size: 14px; font-family: 'DejaVu Sans', 'Liberation Sans', sans-serif">l</tspan>
       <tspan x="45.048828" y="-0.498438" style="font-size: 14px; font-family: 'DejaVu Sans', 'Liberation Sans', sans-serif">a</tspan>
       <tspan x="53.62793" y="-0.498438" style="font-size: 14px; font-family: 'DejaVu Sans', 'Liberation Sans', sans-serif">t</tspan>
       <tspan x="59.117188" y="-0.498438" style="font-size: 14px; font-family: 'DejaVu Sans', 'Liberation Sans', sans-serif">i</tspan>
       <tspan x="63.006836" y="-0.498438" style="font-size: 14px; font-family: 'DejaVu Sans', 'Liberation Sans', sans-serif">v</tspan>
       <tspan x="71.291992" y="-0.498438" style="font-size: 14px; font-family: 'DejaVu Sans', 'Liberation Sans', sans-serif">e</tspan>
       <tspan x="79.905273" y="-0.498438" style="font-size: 14px; font-family: 'DejaVu Sans', 'Liberation Sans', sans-serif"> </tspan>
       <tspan x="84.355469" y="-0.498438" style="font-size: 14px; font-family: 'DejaVu Sans', 'Liberation Sans', sans-serif">κ</tspan>
       <tspan x="105.693848" y="-0.498438" style="font-size: 14px; font-family: 'DejaVu Sans', 'Liberation Sans', sans-serif"> </tspan>
       <tspan x="110.144043" y="-0.498438" style="font-size: 14px; font-family: 'DejaVu Sans', 'Liberation Sans', sans-serif">(</tspan>
       <tspan x="115.605957" y="-0.498438" style="font-size: 14px; font-family: 'DejaVu Sans', 'Liberation Sans', sans-serif">W</tspan>
       <tspan x="129.44873" y="-0.498438" style="font-size: 14px; font-family: 'DejaVu Sans', 'Liberation Sans', sans-serif">m</tspan>
       <tspan x="158.049609" y="-0.498438" style="font-size: 14px; font-family: 'DejaVu Sans', 'Liberation Sans', sans-serif">K</tspan>
       <tspan x="182.193457" y="-0.498438" style="font-size: 14px; font-family: 'DejaVu Sans', 'Liberation Sans', sans-serif">)</tspan>
       <tspan x="92.74043" y="1.798437" style="font-size: 9.8px; font-family: 'DejaVu Sans', 'Liberation Sans', sans-serif">l</tspan>
       <tspan x="95.463184" y="1.798437" style="font-size: 9.8px; font-family: 'DejaVu Sans', 'Liberation Sans', sans-serif">a</tspan>
       <tspan x="101.468555" y="1.798437" style="font-size: 9.8px; font-family: 'DejaVu Sans', 'Liberation Sans', sans-serif">t</tspan>
       <tspan x="143.22041" y="-5.857813" style="font-size: 9.8px; font-family: 'DejaVu Sans', 'Liberation Sans', sans-serif">−</tspan>
       <tspan x="151.431738" y="-5.857813" style="font-size: 9.8px; font-family: 'DejaVu Sans', 'Liberation Sans', sans-serif">1</tspan>
       <tspan x="167.364258" y="-5.857813" style="font-size: 9.8px; font-family: 'DejaVu Sans', 'Liberation Sans', sans-serif">−</tspan>
       <tspan x="175.575586" y="-5.857813" style="font-size: 9.8px; font-family: 'DejaVu Sans', 'Liberation Sans', sans-serif">1</tspan>
      </text>
     </g>
    </g>
   </g>
   <g id="line2d_21">
    <path d="M 90.408 235.8 
L 91.974 228.445887 
L 93.54 219.539768 
L 96.672 189.858606 
L 98.238 169.366799 
L 101.37 145.469743 
L 104.502 130.04492 
L 106.068 124.927342 
L 107.634 116.384906 
L 109.2 109.607172 
L 110.766 103.80775 
L 112.332 99.932081 
L 113.898 96.616676 
L 117.03 88.835946 
L 118.596 85.948481 
L 123.294 78.333458 
L 124.86 76.384989 
L 129.558 71.267431 
L 131.124 69.393065 
L 134.256 66.046134 
L 135.822 64.551342 
L 138.954 62.233325 
L 142.086 60.049297 
L 145.218 58.190684 
L 148.35 56.685537 
L 151.482 55.529226 
L 154.614 54.725771 
L 157.746 54.048971 
L 164.01 52.03965 
L 167.142 51.339352 
L 168.708 51.076699 
L 170.274 50.620391 
L 171.84 49.944535 
L 174.972 49.148813 
L 182.802 47.412 
L 190.632 45.806596 
L 195.33 44.814989 
L 198.462 44.307197 
L 203.16 43.787637 
L 207.858 43.633635 
L 210.99 43.583794 
L 212.556 43.303512 
L 214.122 42.842507 
L 217.254 42.322434 
L 221.952 41.754869 
L 225.084 41.628063 
L 232.914 41.49853 
L 234.48 41.380083 
L 236.046 41.094582 
L 239.178 40.31892 
L 240.744 40.002781 
L 245.442 39.948112 
L 254.838 39.868845 
L 257.97 39.802032 
L 279.894 39.770412 
L 281.46 39.490245 
L 284.592 38.562017 
L 289.29 37.707418 
L 292.422 37.15578 
L 297.12 35.707219 
L 301.818 34.835071 
L 303.384 34.294742 
L 306.516 32.877953 
L 308.082 32.252967 
L 312.78 30.66735 
L 314.346 30.105847 
L 315.912 29.849485 
L 319.044 29.784 
L 323.742 29.784 
L 323.742 29.784 
" clip-path="url(#p05aeb54f93)" style="fill: none; stroke: #1f77b4; stroke-width: 1.5; stroke-linecap: square"/>
   </g>
   <g id="line2d_22">
    <path d="M 90.408 236.52 
L 91.974 230.860263 
L 93.54 224.319967 
L 95.106 216.701417 
L 99.804 192.396476 
L 101.37 184.616615 
L 102.936 178.341809 
L 104.502 173.505315 
L 106.068 169.58253 
L 112.332 157.304605 
L 115.464 151.998471 
L 117.03 149.95561 
L 120.162 146.530001 
L 123.294 143.757708 
L 124.86 142.590584 
L 127.992 140.61226 
L 131.124 138.103453 
L 134.256 136.22814 
L 137.388 134.657419 
L 140.52 133.308989 
L 143.652 132.218543 
L 146.784 131.302182 
L 149.916 130.583055 
L 164.01 127.967052 
L 167.142 127.526133 
L 182.802 124.717696 
L 189.066 123.900814 
L 195.33 123.392264 
L 206.292 122.73619 
L 210.99 122.687878 
L 220.386 121.83058 
L 225.084 121.656112 
L 231.348 121.550534 
L 236.046 120.938177 
L 240.744 120.222844 
L 243.876 120.126554 
L 276.762 120.098901 
L 279.894 120.042044 
L 281.46 119.830811 
L 286.158 118.868167 
L 292.422 117.94758 
L 303.384 115.521864 
L 309.648 113.249639 
L 314.346 111.934583 
L 315.912 111.653241 
L 317.478 111.528 
L 323.742 111.528 
L 323.742 111.528 
" clip-path="url(#p05aeb54f93)" style="fill: none; stroke: #ff7f0e; stroke-width: 1.5; stroke-linecap: square"/>
   </g>
   <g id="patch_7">
    <path d="M 78.72 248.856 
L 78.72 19.416 
" style="fill: none; stroke: #000000; stroke-linejoin: miter; stroke-linecap: square"/>
   </g>
   <g id="patch_8">
    <path d="M 335.52 248.856 
L 335.52 19.416 
" style="fill: none; stroke: #000000; stroke-linejoin: miter; stroke-linecap: square"/>
   </g>
   <g id="patch_9">
    <path d="M 78.72 248.856 
L 335.52 248.856 
" style="fill: none; stroke: #000000; stroke-linejoin: miter; stroke-linecap: square"/>
   </g>
   <g id="patch_10">
    <path d="M 78.72 19.416 
L 335.52 19.416 
" style="fill: none; stroke: #000000; stroke-linejoin: miter; stroke-linecap: square"/>
   </g>
   <g id="legend_1">
    <g id="patch_11">
     <path d="M 263.731875 242.856 
L 329.52 242.856 
L 329.52 206.4285 
L 263.731875 206.4285 
z
" style="fill: #ffffff; opacity: 0.5; stroke: #000000; stroke-width: 0.5; stroke-linejoin: miter"/>
    </g>
    <g id="line2d_23" transform="translate(0.000 0.408)">
     <path d="M 268.531875 216.146625 
L 274.531875 216.146625 
L 280.77 216.146625 
" style="fill: none; stroke: #1f77b4; stroke-width: 1.5; stroke-linecap: square"/>
    </g>
    <g id="text_19" transform="translate(0.000 0.216)">
     <text style="font-size: 12px; font-family: 'DejaVu Sans', 'Liberation Sans', sans-serif; text-anchor: start" x="290.131875" y="220.346625" transform="rotate(-0 290.131875 220.346625)">300 K</text>
    </g>
    <g id="line2d_24" transform="translate(0.000 0.408)">
     <path d="M 268.531875 231.360375 
L 274.531875 231.360375 
L 280.77 231.360375 
" style="fill: none; stroke: #ff7f0e; stroke-width: 1.5; stroke-linecap: square"/>
    </g>
    <g id="text_20" transform="translate(0.000 0.216)">
     <text style="font-size: 12px; font-family: 'DejaVu Sans', 'Liberation Sans', sans-serif; text-anchor: start" x="290.131875" y="235.560375" transform="rotate(-0 290.131875 235.560375)">500 K</text>
    </g>
   </g>
  </g>
 </g>
 <defs>
  <clipPath id="p05aeb54f93">
   <rect x="78.72" y="19.416" width="256.8" height="229.44"/>
  </clipPath>
 </defs>
</svg>

</body></html>
